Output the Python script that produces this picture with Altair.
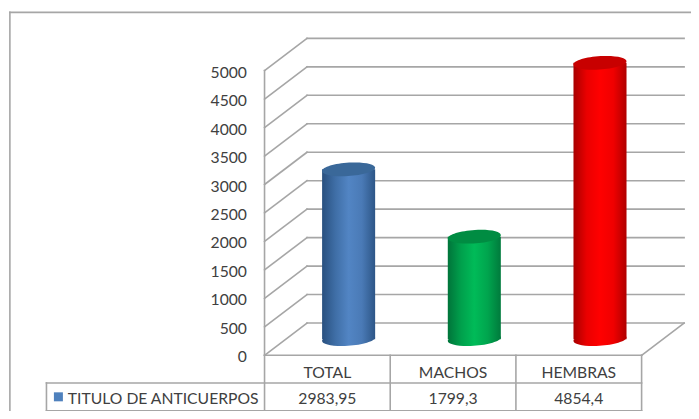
import altair as alt
import pandas as pd

categories = ["TOTAL", "MACHOS", "HEMBRAS"]
values = [2983.95, 1799.3, 4854.4]
value_labels = ["2983,95", "1799,3", "4854,4"]
series_name = "TITULO DE ANTICUERPOS"
ticks = [0, 500, 1000, 1500, 2000, 2500, 3000, 3500, 4000, 4500, 5000]
body_stops = [
    ["#29507f", "#3f6ea6", "#5285c4", "#4a7ab6", "#2d5687"],
    ["#00743a", "#00a04c", "#00bb58", "#00a54e", "#007a3c"],
    ["#a80000", "#ea0000", "#ff0000", "#f00000", "#b00000"],
]
top_colors = ["#3a6899", "#008c42", "#c80000"]

# Scale: one x unit is one category, y units are the value axis
PX_X, PX_Y = 125.67, 0.05692
DU, DV = 0.338, 567.0          # depth of the 3D box
HALF_W = 0.211                 # cylinder half width
ROW = 27.7 / PX_Y              # table row height
LEFT_TABLE = -1.735
LEFT_FRAME = -2.026
TOP_FRAME = 6025
X_DOM = [-2.041, 3.393]
Y_DOM = [-979, 6101]
FONT = "Lato"
GREY = "#a6a6a6"
TEXT = "#404040"
FS = 15.7

seg = []
def add(x, y, x2, y2):
    seg.append(dict(x=x, y=y, x2=x2, y2=y2))

for t in ticks:
    add(0, t, DU, t + DV)
    add(DU, t + DV, 3 + DU, t + DV)
add(0, 0, 0, ticks[-1])
add(3, 0, 3 + DU, DV)
# table
add(0, 0, 3, 0)
add(LEFT_TABLE, -ROW, 3, -ROW)
add(LEFT_TABLE, -2 * ROW, 3, -2 * ROW)
add(LEFT_TABLE, -ROW, LEFT_TABLE, -2 * ROW)
for b in range(4):
    add(b, 0, b, -2 * ROW)
# outer frame
add(LEFT_FRAME, TOP_FRAME, X_DOM[1], TOP_FRAME)
add(LEFT_FRAME, TOP_FRAME, LEFT_FRAME, Y_DOM[0])

X = alt.X("x:Q", scale=alt.Scale(domain=X_DOM, nice=False, zero=False), axis=None)
Y = alt.Y("y:Q", scale=alt.Scale(domain=Y_DOM, nice=False, zero=False), axis=None)

lines = alt.Chart(pd.DataFrame(seg)).mark_rule(
    color=GREY, strokeWidth=1.6, strokeCap="square"
).encode(x=X, y=Y, x2="x2:Q", y2="y2:Q")

ELLIPSE = "M-1,0.06 A1,0.25,-4,1,1,1,-0.06 A1,0.25,-4,1,1,-1,0.06 Z"
SIZE = (2 * HALF_W * PX_X) ** 2


def grad(stops):
    n = len(stops) - 1
    return alt.Gradient(
        gradient="linear", x1=0, y1=0, x2=1, y2=0,
        stops=[alt.GradientStop(offset=i / n, color=c) for i, c in enumerate(stops)],
    )


cyl = []
for i, (v, st, tc) in enumerate(zip(values, body_stops, top_colors)):
    cx = i + 0.5 + DU / 2
    base = DV / 2
    g = grad(st)
    d = pd.DataFrame([dict(x=cx - HALF_W, x2=cx + HALF_W, y=base, y2=base + v)])
    bottom = pd.DataFrame([dict(x=cx, y=base)])
    top = pd.DataFrame([dict(x=cx, y=base + v)])
    cyl.append(alt.Chart(bottom).mark_point(
        shape=ELLIPSE, size=SIZE, filled=True, fill=g, opacity=1, strokeWidth=0
    ).encode(x=X, y=Y))
    cyl.append(alt.Chart(d).mark_rect(fill=g, strokeWidth=0).encode(x=X, y=Y, x2="x2:Q", y2="y2:Q"))
    cyl.append(alt.Chart(top).mark_point(
        shape=ELLIPSE, size=SIZE, filled=True, fill=tc, opacity=1, strokeWidth=0
    ).encode(x=X, y=Y))

tick_df = pd.DataFrame(dict(x=[-0.14] * len(ticks), y=ticks, t=[str(t) for t in ticks]))
tick_text = alt.Chart(tick_df).mark_text(
    align="right", baseline="middle", font=FONT, fontSize=FS, color=TEXT, dy=2
).encode(x=X, y=Y, text="t:N")

cat_df = pd.DataFrame(dict(x=[i + 0.5 for i in range(3)], y=[-ROW / 2] * 3, t=categories))
val_df = pd.DataFrame(dict(x=[i + 0.5 for i in range(3)], y=[-1.5 * ROW] * 3, t=value_labels))
cat_text = alt.Chart(cat_df).mark_text(
    align="center", baseline="middle", font=FONT, fontSize=FS, color=TEXT, dy=4
).encode(x=X, y=Y, text="t:N")
val_text = alt.Chart(val_df).mark_text(
    align="center", baseline="middle", font=FONT, fontSize=FS, color=TEXT, dy=2
).encode(x=X, y=Y, text="t:N")

name_text = alt.Chart(pd.DataFrame([dict(x=-1.565, y=-1.5 * ROW, t=series_name)])).mark_text(
    align="left", baseline="middle", font=FONT, fontSize=FS, color=TEXT, dy=2
).encode(x=X, y=Y, text="t:N")
swatch = alt.Chart(pd.DataFrame([dict(x=-1.64, y=-1.5 * ROW)])).mark_square(
    size=81, color="#4f81bd", opacity=1
).encode(x=X, y=Y)

chart = alt.layer(lines, *cyl, tick_text, cat_text, val_text, name_text, swatch).properties(
    width=683, height=403, padding=0,
    autosize=alt.AutoSizeParams(type="none"),
    background="white",
).configure_view(stroke=None)

chart.save("out.html", embed_options={"renderer": "svg", "actions": False})
